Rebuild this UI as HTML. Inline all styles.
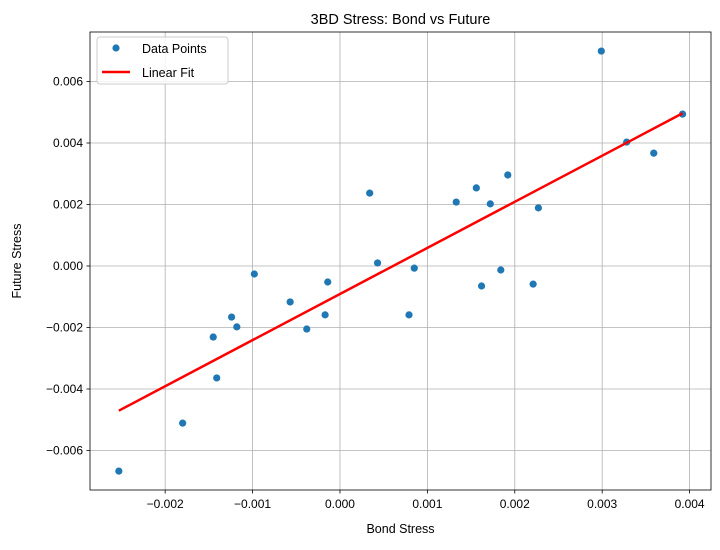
<!DOCTYPE html>
<html><head><meta charset="utf-8"><style>
body{margin:0;background:#fff;font-family:"Liberation Sans","DejaVu Sans",sans-serif;}
svg text{font-family:"Liberation Sans","DejaVu Sans",sans-serif;fill:#000;}
</style></head><body>
<svg id="chart" width="720" height="545" xmlns="http://www.w3.org/2000/svg"></svg>
<script>
const bondStress=[-0.00253,-0.00180,-0.00145,-0.00141,-0.00124,-0.00118,-0.00098,-0.00057,-0.00038,-0.00017,-0.00014,0.00034,0.00043,0.00079,0.00085,0.00133,0.00156,0.00162,0.00172,0.00184,0.00192,0.00221,0.00227,0.00299,0.00328,0.00359,0.00392];
const futureStress=[-0.00667,-0.00511,-0.00231,-0.00364,-0.00166,-0.00198,-0.00026,-0.00117,-0.00205,-0.00159,-0.00052,0.00237,0.00010,-0.00159,-0.00007,0.00208,0.00254,-0.00065,0.00202,-0.00013,0.00296,-0.00059,0.00189,0.00699,0.00403,0.00367,0.00494];
const xTicks=[-0.002,-0.001,0,0.001,0.002,0.003,0.004];
const xTickLabels=["\u22120.002","\u22120.001","0.000","0.001","0.002","0.003","0.004"];
const yTicks=[-0.006,-0.004,-0.002,0,0.002,0.004,0.006];
const yTickLabels=["\u22120.006","\u22120.004","\u22120.002","0.000","0.002","0.004","0.006"];

const NS="http://www.w3.org/2000/svg";
const svg=document.getElementById('chart');
const L=90,R=711,T=32,B=490;
const xMin=-0.002860,xMax=0.004245,yMin=-0.007285,yMax=0.007610;
const sx=v=>L+(v-xMin)/(xMax-xMin)*(R-L);
const sy=v=>B-(v-yMin)/(yMax-yMin)*(B-T);
function mk(tag,attrs,parent){const e=document.createElementNS(NS,tag);for(const k in attrs)e.setAttribute(k,attrs[k]);(parent||svg).appendChild(e);return e;}

// grid + ticks
xTicks.forEach((v,i)=>{const x=sx(v);
 const g=mk('line',{x1:x,x2:x,y1:T,y2:B,stroke:'#b0b0b0','stroke-width':0.8});
 
 mk('line',{x1:x,x2:x,y1:B,y2:B+3.5,stroke:'#000','stroke-width':0.8});
 const t=mk('text',{x:x,y:B+18,'text-anchor':'middle','font-size':12});t.textContent=xTickLabels[i];
 
});
yTicks.forEach((v,i)=>{const y=sy(v);
 const g=mk('line',{x1:L,x2:R,y1:y,y2:y,stroke:'#b0b0b0','stroke-width':0.8});
 
 mk('line',{x1:L-3.5,x2:L,y1:y,y2:y,stroke:'#000','stroke-width':0.8});
 const t=mk('text',{x:L-7,y:y+4,'text-anchor':'end','font-size':12});t.textContent=yTickLabels[i];
 
});

// points
bondStress.forEach((b,i)=>{
 const c=mk('circle',{cx:sx(b),cy:sy(futureStress[i]),r:3.6,fill:'#1f77b4'});
 
});

// linear fit
const n=bondStress.length;
const mx=bondStress.reduce((a,b)=>a+b,0)/n, my=futureStress.reduce((a,b)=>a+b,0)/n;
let sxy=0,sxx=0;for(let i=0;i<n;i++){sxy+=(bondStress[i]-mx)*(futureStress[i]-my);sxx+=(bondStress[i]-mx)**2;}
const slope=sxy/sxx, icpt=my-slope*mx;
const x0=Math.min(...bondStress), x1=Math.max(...bondStress);
const fl=mk('line',{x1:sx(x0),y1:sy(icpt+slope*x0),x2:sx(x1),y2:sy(icpt+slope*x1),stroke:'#ff0000','stroke-width':2.5});


// axes frame
const fr=mk('rect',{x:L,y:T,width:R-L,height:B-T,fill:'none',stroke:'#000','stroke-width':0.8});


// titles
let t=mk('text',{x:(L+R)/2,y:T-8,'text-anchor':'middle','font-size':14.5});t.textContent='3BD Stress: Bond vs Future';

t=mk('text',{x:(L+R)/2,y:533,'text-anchor':'middle','font-size':12.5});t.textContent='Bond Stress';

t=mk('text',{x:0,y:0,'text-anchor':'middle','font-size':12.5,transform:'translate(21,'+((T+B)/2)+') rotate(-90)'});t.textContent='Future Stress';


// legend
const lg=mk('g',{});

mk('rect',{x:97,y:37,width:131,height:47,rx:3,fill:'#fff','fill-opacity':0.8,stroke:'#ccc','stroke-width':1},lg);
const e1=mk('circle',{cx:116,cy:48,r:3.6,fill:'#1f77b4'},lg);

t=mk('text',{x:142,y:53,'font-size':12.5},lg);t.textContent='Data Points';

const e2=mk('line',{x1:102,x2:130,y1:72,y2:72,stroke:'#ff0000','stroke-width':2.5},lg);

t=mk('text',{x:142,y:77,'font-size':12.5},lg);t.textContent='Linear Fit';

</script>
</body></html>
